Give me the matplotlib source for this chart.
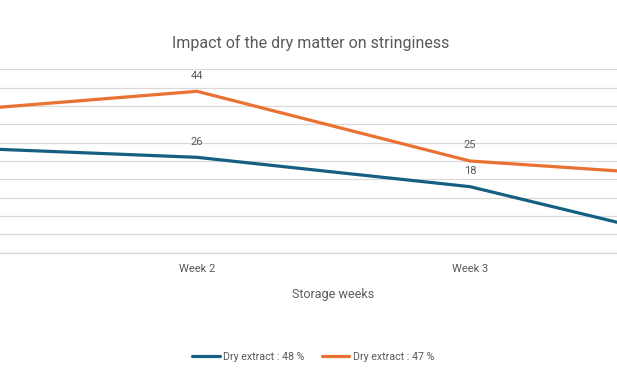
import numpy as np
import matplotlib.pyplot as plt

weeks = ['Week 1', 'Week 2', 'Week 3', 'Week 4']
dry_48 = [29, 26, 18, 0]
dry_47 = [38, 44, 25, 20]
series_names = ['Dry extract : 48 %', 'Dry extract : 47 %']
colors = ['#156082', '#E97132']

plt.rcParams['font.family'] = ['Liberation Sans Narrow', 'Roboto', 'DejaVu Sans']
grey = '#595959'

fig = plt.figure(figsize=(6.17, 3.81), dpi=100)
# the reference is cropped: only part of the plot area (Week 2..3) is visible
ax = fig.add_axes([0, 1 - 252.7 / 381, 1, 183.4 / 381])

x = np.arange(len(weeks))
for vals, name, c in zip([dry_48, dry_47], series_names, colors):
    ax.plot(x, vals, color=c, lw=2.3, label=name, solid_capstyle='round')
    for xi, v in zip(x, vals):
        # points outside the visible area are clipped away by annotate
        ax.annotate(str(v), (xi, v), xytext=(0, 11.3), textcoords='offset points',
                    ha='center', va='center', fontsize=8, color=grey)

ax.set_yticks(np.arange(0, 51, 5))
ax.set_xticks(x)
ax.set_xticklabels(weeks)
# set limits after the ticks, otherwise set_xticks widens them again
ax.set_xlim(76 / 273, 693 / 273)
ax.set_ylim(0, 50)
ax.grid(axis='y', color='#d9d9d9', lw=0.9)
ax.set_axisbelow(True)
for s in ['top', 'right', 'left']:
    ax.spines[s].set_visible(False)
ax.spines['bottom'].set_color('#d9d9d9')
ax.spines['bottom'].set_linewidth(1.0)
ax.tick_params(axis='both', length=0, colors=grey, labelsize=8, pad=8)
ax.tick_params(axis='y', labelleft=False)

ax.set_xlabel('Storage weeks', fontsize=9, color=grey)
ax.xaxis.set_label_coords(333.5 / 617, -0.23)
ax.xaxis.label.set_va('center')

fig.text(311 / 617, 1 - 42.7 / 381, 'Impact of the dry matter on stringiness',
         ha='center', va='center', fontsize=11.5, color=grey)

fig.legend(loc='center', bbox_to_anchor=(313 / 617, 1 - 357 / 381), ncol=2,
           frameon=False, fontsize=7.7, labelcolor=grey, handlelength=2.6,
           handletextpad=0.3, columnspacing=1.6)

fig.savefig('out.png', dpi=100)
